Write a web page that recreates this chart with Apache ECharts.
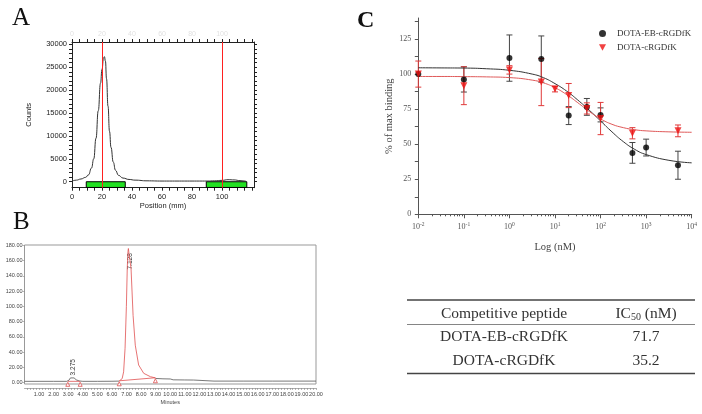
<!DOCTYPE html>
<html><head><meta charset="utf-8">
<script src="https://cdn.jsdelivr.net/npm/echarts@6/dist/echarts.min.js"></script>
<style>html,body{margin:0;padding:0;background:#fff}#c{width:702px;height:414px}</style>
</head><body><div id="c"></div>
<script>
// ---------- Panel A : radio-TLC ----------
const aPos    = [0,3,6,9,11,13,14.5,16,17.5,19,20,21,21.6,22.3,23,24,25,26,27.5,29,31,34,38,42,50,60,70,80,90,95,100,104,108,112,116];
const aCounts = [150,350,600,950,1500,3000,5000,9500,15500,21500,24500,27000,27300,26300,22500,16500,11000,7500,4300,2500,1400,800,500,350,200,150,150,150,150,200,300,450,400,250,100];
const aMarkers = [20, 100];
const aRegions = [[9.5, 35.5], [89.5, 116.5]];
const aXLabels = [0, 20, 40, 60, 80, 100];
const aXTicks  = [0,5,10,15,20,25,30,35,40,45,50,55,60,65,70,75,80,85,90,95,100,105,110,115,120];
const aYLabels = [0, 5000, 10000, 15000, 20000, 25000, 30000];
const aYTicks  = [0,1000,2000,3000,4000,5000,6000,7000,8000,9000,10000,11000,12000,13000,14000,15000,16000,17000,18000,19000,20000,21000,22000,23000,24000,25000,26000,27000,28000,29000,30000];

// ---------- Panel B : HPLC ----------
const bTime   = [0,1,2,2.9,3.05,3.15,3.275,3.4,3.55,3.75,4,5,6,6.5];
const bSignal = [1.5,1.5,1.5,1.5,3,6,8,6,3.5,2,1.5,1.5,1.6,1.8];
const bTailTime   = [8.98,9.5,10.0,10.2,11.0,11.6,11.7,13,15,17,20];
const bTailSignal = [5.3,4.8,4.6,3.5,3.3,3.2,2.0,1.8,1.8,1.8,1.8];
const bPeakTime   = [6.5,6.7,6.8,6.9,6.99,7.05,7.10,7.128,7.18,7.31,7.45,7.60,7.83,8.18,8.64,8.98];
const bPeakSignal = [2,5,14,45,100,150,172,176,168,150,88,49,23,12,7.6,6];
const bBaselines  = [[[2.97,1.5],[3.82,1.5]], [[6.5,2.2],[8.98,6.2]]];
const bPeakRT     = [3.275, 7.128];
const bPeakHeight = [8, 176];
const bPeakLabels = ['3.275', '7.128'];
const bXLabels = [1,2,3,4,5,6,7,8,9,10,11,12,13,14,15,16,17,18,19,20];
const bYLabels = [0,20,40,60,80,100,120,140,160,180];

// ---------- Panel C : competitive binding ----------
const cBlackX   = [0.01,0.1,1,5,20,50,100,500,1000,5000];
const cBlackY   = [100,96.2,111.4,110.7,70.4,76.6,70.9,43.8,47.6,35];
const cBlackErr = [0,9,16.5,16.5,6.4,6,5,7.4,6,10];
const cRedX     = [0.01,0.1,1,5,10,20,50,100,500,5000];
const cRedY     = [100,91.7,103,94.3,89.3,84.7,75.5,68.3,57.8,59.5];
const cRedErr   = [9.3,13.5,3,16.8,2,8.6,4,11.5,4,4.2];
const cCurveX   = [0.01,0.03162,0.1,0.3162,1,3.162,5.623,10,17.78,31.62,56.23,100,177.8,316.2,562.3,1000,3162,10000];
const cBlackFit = [104.5,104.4,104.3,103.8,102.7,100.0,97.4,93.2,88.0,81.5,74.3,66.6,58.8,51.8,46.3,42.6,38.5,36.7];
const cRedFit   = [98.3,98.3,98.2,98.0,97.5,95.7,93.7,90.3,85.5,79.6,73.4,68.1,64.2,61.8,60.3,59.5,58.8,58.5];
const cXLabels  = [0.01,0.1,1,10,100,1000,10000];
const cYLabels  = [0,25,50,75,100,125];
const cYTicks   = [0,12.5,25,37.5,50,62.5,75,87.5,100,112.5,125,137.5];
const cMinorTicks = [0.02,0.03,0.04,0.05,0.06,0.07,0.08,0.09,0.2,0.3,0.4,0.5,0.6,0.7,0.8,0.9,2,3,4,5,6,7,8,9,20,30,40,50,60,70,80,90,200,300,400,500,600,700,800,900,2000,3000,4000,5000,6000,7000,8000,9000];
const cSeriesNames = ['DOTA-EB-cRGDfK', 'DOTA-cRGDfK'];

// ---------- Table ----------
const tableHeader   = ['Competitive peptide', 'IC50 (nM)'];
const tablePeptides = ['DOTA-EB-cRGDfK', 'DOTA-cRGDfK'];
const tableIC50     = ['71.7', '35.2'];

const zip = (xs, ys) => xs.map((x, i) => [x, ys[i]]);
const zip3 = (xs, ys, es) => xs.map((x, i) => [x, ys[i], es[i]]);
const SANS = 'Liberation Sans';
const SERIF = 'Liberation Serif';

function errRender(color) {
  return function (params, api) {
    const x = api.value(0), y = api.value(1), e = api.value(2);
    if (!e) return null;
    const hi = api.coord([x, y + e]), lo = api.coord([x, y - e]);
    const w = 3;
    const st = {stroke: color, lineWidth: 1};
    return {type: 'group', children: [
      {type: 'line', shape: {x1: hi[0], y1: hi[1], x2: lo[0], y2: lo[1]}, style: st},
      {type: 'line', shape: {x1: hi[0] - w, y1: hi[1], x2: hi[0] + w, y2: hi[1]}, style: st},
      {type: 'line', shape: {x1: lo[0] - w, y1: lo[1], x2: lo[0] + w, y2: lo[1]}, style: st}
    ]};
  };
}

const chart = echarts.init(document.getElementById('c'));

const series = [
  // A
  {type: 'line', xAxisIndex: 0, yAxisIndex: 0, data: zip(aPos, aCounts), smooth: true, smoothMonotone: 'x',
   symbol: 'none', lineStyle: {color: '#333', width: 1}, z: 3,
   markLine: {silent: true, symbol: ['none', 'none'], label: {show: false},
     lineStyle: {color: '#ff2020', width: 1, type: 'solid'},
     data: aMarkers.map(v => ({xAxis: v}))},
   markArea: {silent: true, itemStyle: {color: '#22e022', borderColor: '#000', borderWidth: 1},
     data: aRegions.map(r => [{xAxis: r[0], yAxis: 0}, {xAxis: r[1], yAxis: -1250}])}
  },
  // B
  {type: 'line', xAxisIndex: 2, yAxisIndex: 2, data: zip(bTime, bSignal), symbol: 'none',
   lineStyle: {color: '#555', width: 0.8}},
  {type: 'line', xAxisIndex: 2, yAxisIndex: 2, data: zip(bTailTime, bTailSignal), symbol: 'none',
   lineStyle: {color: '#555', width: 0.8}},
  {type: 'line', xAxisIndex: 2, yAxisIndex: 2, data: zip(bPeakTime, bPeakSignal), symbol: 'none',
   lineStyle: {color: '#e05050', width: 0.8}},
  ...bBaselines.map(seg => ({type: 'line', xAxisIndex: 2, yAxisIndex: 2, data: seg,
   symbol: 'triangle', symbolSize: 4, symbolOffset: [0, 3], showSymbol: true,
   itemStyle: {color: '#fff', borderColor: '#e05050', borderWidth: 0.8}, lineStyle: {color: '#e05050', width: 0.8}})),
  {type: 'custom', xAxisIndex: 2, yAxisIndex: 2, data: zip(bPeakRT, bPeakHeight),
   renderItem: function (params, api) {
     const p = api.coord([api.value(0), api.value(1)]);
     const shift = params.dataIndex === 0 ? [1, -1] : [2, 21];
     return {type: 'text', x: p[0] + shift[0], y: p[1] + shift[1], rotation: Math.PI / 2,
       style: {text: bPeakLabels[params.dataIndex], fill: '#333', fontSize: 6.5, fontFamily: SANS,
         align: 'left', verticalAlign: 'middle'}};
   }},
  // C
  {type: 'custom', xAxisIndex: 3, yAxisIndex: 3, data: zip3(cBlackX, cBlackY, cBlackErr),
   encode: {x: 0, y: 1}, renderItem: errRender('#444'), z: 2},
  {type: 'custom', xAxisIndex: 3, yAxisIndex: 3, data: zip3(cRedX, cRedY, cRedErr),
   encode: {x: 0, y: 1}, renderItem: errRender('#e03a3a'), z: 2},
  {type: 'line', xAxisIndex: 3, yAxisIndex: 3, data: zip(cCurveX, cBlackFit), smooth: true,
   symbol: 'none', lineStyle: {color: '#333', width: 1}, z: 3},
  {type: 'line', xAxisIndex: 3, yAxisIndex: 3, data: zip(cCurveX, cRedFit), smooth: true,
   symbol: 'none', lineStyle: {color: '#e05a5a', width: 1}, z: 3},
  {name: cSeriesNames[0], type: 'scatter', xAxisIndex: 3, yAxisIndex: 3, data: zip(cBlackX, cBlackY),
   symbol: 'circle', symbolSize: 6, itemStyle: {color: '#000'}, z: 5},
  {name: cSeriesNames[1], type: 'scatter', xAxisIndex: 3, yAxisIndex: 3, data: zip(cRedX, cRedY),
   symbol: 'triangle', symbolRotate: 180, symbolSize: 7, itemStyle: {color: '#ee1111'}, z: 6}
];

const graphic = [
  {type: 'text', left: 12, top: 6, style: {text: 'A', fontSize: 25, fontFamily: SERIF, fill: '#111'}},
  {type: 'text', left: 13, top: 210, style: {text: 'B', fontSize: 25, fontFamily: SERIF, fill: '#111'}},
  {type: 'text', left: 357, top: 9, style: {text: 'C', fontSize: 24, fontWeight: 'bold', fontFamily: SERIF, fill: '#111'}},
  {type: 'line', shape: {x1: 407, y1: 300, x2: 695, y2: 300}, style: {stroke: '#444', lineWidth: 1.5}},
  {type: 'line', shape: {x1: 407, y1: 324.5, x2: 695, y2: 324.5}, style: {stroke: '#666', lineWidth: 0.8}},
  {type: 'line', shape: {x1: 407, y1: 373.5, x2: 695, y2: 373.5}, style: {stroke: '#444', lineWidth: 1.5}},
  {type: 'text', x: 504, y: 314, style: {text: tableHeader[0], fontSize: 15.5, fontFamily: SERIF, fill: '#333', align: 'center', verticalAlign: 'middle'}},
  {type: 'text', x: 646, y: 314, style: {text: 'IC{s|50} (nM)', fontSize: 15.5, fontFamily: SERIF, fill: '#333', align: 'center', verticalAlign: 'middle',
    rich: {s: {fontSize: 10, fontFamily: SERIF, fill: '#333', verticalAlign: 'bottom', lineHeight: 10, padding: [6, 0, 0, 0]}}}},
  ...tablePeptides.map((p, i) => ({type: 'text', x: 504, y: 337 + i * 24, style: {text: p, fontSize: 15.5, fontFamily: SERIF, fill: '#333', align: 'center', verticalAlign: 'middle'}})),
  ...tableIC50.map((v, i) => ({type: 'text', x: 646, y: 337 + i * 24, style: {text: v, fontSize: 15.5, fontFamily: SERIF, fill: '#333', align: 'center', verticalAlign: 'middle'}}))
];

const plain = v => String(v);

const option = {
  animation: false,
  backgroundColor: '#fff',
  grid: [
    {left: 72, top: 42, width: 182, height: 145.7, outerBoundsMode: 'none'},
    {left: 24.5, top: 245, width: 291.5, height: 139, outerBoundsMode: 'none', show: true, borderColor: '#999', borderWidth: 1, backgroundColor: 'transparent'},
    {left: 418.3, top: 18, width: 273.4, height: 196.3, outerBoundsMode: 'none'}
  ],
  legend: {data: [{name: cSeriesNames[0], icon: 'circle'}, {name: cSeriesNames[1], icon: 'path://M0,0L10,0L5,9Z'}],
    orient: 'vertical', left: 599, top: 29, itemWidth: 7, itemHeight: 7, itemGap: 5, padding: 0,
    textStyle: {fontSize: 9, fontFamily: SERIF, color: '#333', padding: [0, 0, 0, 6]}},
  xAxis: [
    {type: 'value', gridIndex: 0, position: 'bottom', min: 0, max: 121.3,
     axisLine: {show: true, onZero: false, lineStyle: {color: '#222'}},
     axisTick: {show: true, customValues: aXTicks, length: 3, lineStyle: {color: '#222'}},
     axisLabel: {customValues: aXLabels, formatter: plain, fontSize: 7.5, fontFamily: SANS, color: '#222', margin: 5},
     splitLine: {show: false},
     name: 'Position (mm)', nameLocation: 'middle', nameGap: 14, nameTextStyle: {fontSize: 7.5, fontFamily: SANS, color: '#222'}},
    {type: 'value', gridIndex: 0, position: 'top', min: 0, max: 121.3,
     axisLine: {show: true, onZero: false, lineStyle: {color: '#222'}},
     axisTick: {show: true, customValues: aXTicks, length: 3, lineStyle: {color: '#222'}},
     axisLabel: {customValues: aXLabels, formatter: plain, fontSize: 7, fontFamily: SANS, color: '#e2e2e2', margin: 4},
     splitLine: {show: false}},
    {type: 'value', gridIndex: 1, position: 'bottom', offset: 4, min: 0, max: 20,
     axisLine: {show: true, onZero: false, lineStyle: {color: '#999', width: 0.8}},
     axisTick: {show: true, customValues: bXLabels.flatMap(v => [v - 0.8, v - 0.6, v - 0.4, v - 0.2, v]), length: 2, lineStyle: {color: '#888', width: 0.6}},
     axisLabel: {customValues: bXLabels, formatter: v => v.toFixed(2), fontSize: 5.5, fontFamily: SANS, color: '#444', margin: 3},
     splitLine: {show: false},
     name: 'Minutes', nameLocation: 'middle', nameGap: 11, nameTextStyle: {fontSize: 5.5, fontFamily: SANS, color: '#444'}},
    {type: 'log', logBase: 10, gridIndex: 2, position: 'bottom', min: 0.01, max: 10000,
     axisLine: {show: true, onZero: false, lineStyle: {color: '#555'}},
     axisTick: {show: true, customValues: cXLabels, length: 4, lineStyle: {color: '#555'}},
     axisLabel: {customValues: cXLabels, fontSize: 8, fontFamily: SERIF, color: '#555', margin: 7,
       formatter: v => '10{s|' + Math.round(Math.log10(v)) + '}',
       rich: {s: {fontSize: 5.5, fontFamily: SERIF, color: '#555', verticalAlign: 'top', padding: [0, 0, 5, 0]}}},
     splitLine: {show: false},
     name: 'Log (nM)', nameLocation: 'middle', nameGap: 27, nameTextStyle: {fontSize: 10.5, fontFamily: SERIF, color: '#444'}},
    {type: 'log', logBase: 10, gridIndex: 2, position: 'bottom', min: 0.01, max: 10000,
     axisLine: {show: false, onZero: false}, axisLabel: {show: false}, splitLine: {show: false},
     axisTick: {show: true, customValues: cMinorTicks, length: 2, lineStyle: {color: '#555'}}}
  ],
  yAxis: [
    {type: 'value', gridIndex: 0, position: 'left', min: -1300, max: 30500,
     axisLine: {show: true, onZero: false, lineStyle: {color: '#222'}},
     axisTick: {show: true, customValues: aYTicks, length: 3, lineStyle: {color: '#222'}},
     axisLabel: {customValues: aYLabels, formatter: plain, fontSize: 7.5, fontFamily: SANS, color: '#222', margin: 5},
     splitLine: {show: false},
     name: 'Counts', nameLocation: 'middle', nameGap: 39, nameTextStyle: {fontSize: 7.5, fontFamily: SANS, color: '#222'}},
    {type: 'value', gridIndex: 0, position: 'right', min: -1300, max: 30500,
     axisLine: {show: true, onZero: false, lineStyle: {color: '#222'}},
     axisTick: {show: true, customValues: aYTicks, length: 3, lineStyle: {color: '#222'}},
     axisLabel: {show: false}, splitLine: {show: false}},
    {type: 'value', gridIndex: 1, position: 'left', min: -2, max: 180.6,
     axisLine: {show: false, onZero: false},
     axisTick: {show: true, customValues: bYLabels, length: 2, lineStyle: {color: '#888', width: 0.6}},
     axisLabel: {customValues: bYLabels, formatter: v => v.toFixed(2), fontSize: 5.5, fontFamily: SANS, color: '#444', margin: 2},
     splitLine: {show: false},
     name: 'mV', nameLocation: 'middle', nameGap: 14, nameTextStyle: {fontSize: 5.5, fontFamily: SANS, color: '#444'}},
    {type: 'value', gridIndex: 2, position: 'left', min: 0, max: 140,
     axisLine: {show: true, onZero: false, lineStyle: {color: '#555'}},
     axisTick: {show: true, customValues: cYTicks, length: 3.5, lineStyle: {color: '#555'}},
     axisLabel: {customValues: cYLabels, formatter: plain, fontSize: 8, fontFamily: SERIF, color: '#555', margin: 7},
     splitLine: {show: false},
     name: '% of max binding', nameLocation: 'middle', nameGap: 24, nameTextStyle: {fontSize: 10.5, fontFamily: SERIF, color: '#444'}}
  ],
  series: series,
  graphic: graphic
};
chart.setOption(option);
</script></body></html>
